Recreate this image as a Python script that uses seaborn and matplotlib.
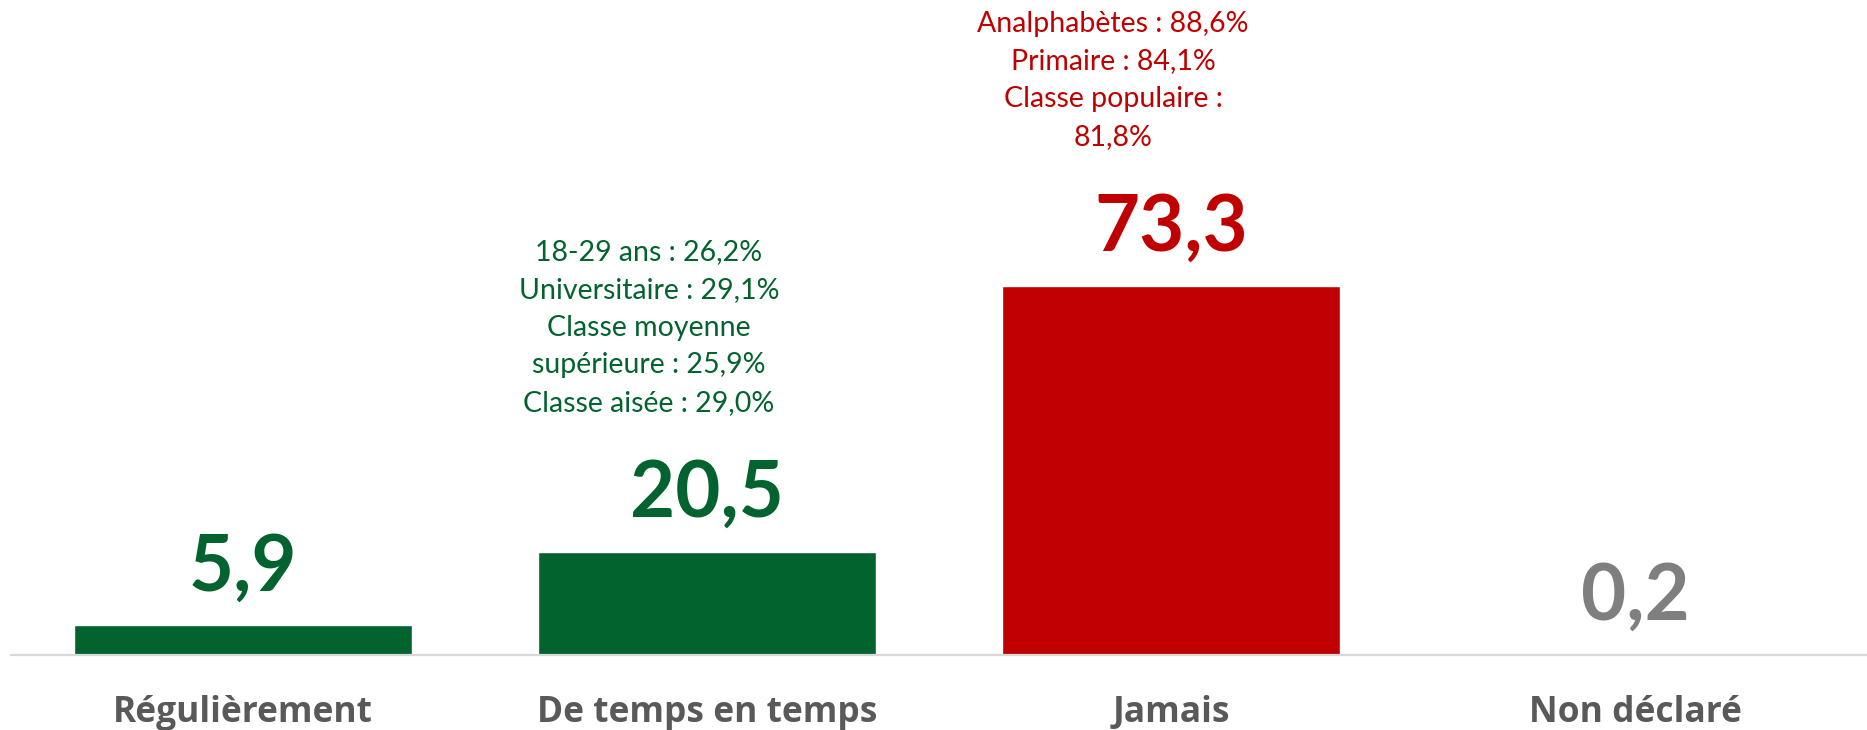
import matplotlib
matplotlib.use("Agg")
import matplotlib.pyplot as plt
import seaborn as sns
import pandas as pd

# data
categories = ["Régulièrement", "De temps en temps", "Jamais", "Non déclaré"]
values = [5.9, 20.5, 73.3, 0.2]
value_labels = ["5,9", "20,5", "73,3", "0,2"]
bar_colors = ["#03632F", "#03632F", "#C00000", "#7F7F7F"]
notes = {
    "De temps en temps": "18-29 ans : 26,2%\nUniversitaire : 29,1%\nClasse moyenne\nsupérieure : 25,9%\nClasse aisée : 29,0%",
    "Jamais": "Analphabètes : 88,6%\nPrimaire : 84,1%\nClasse populaire :\n81,8%",
}

sns.set_style("white")
plt.rcParams['font.family'] = ['Lato', 'DejaVu Sans']

df = pd.DataFrame({"cat": categories, "val": values})

fig = plt.figure(figsize=(18.67, 7.30), dpi=100)
ax = fig.add_axes([11 / 1867, 75 / 730, 1856 / 1867, 655 / 730])

sns.barplot(data=df, x="cat", y="val", hue="cat", palette=bar_colors,
            width=0.73, legend=False, ax=ax, saturation=1)

ax.set_ylim(0, 130)
ax.set_xlim(-0.5, 3.5)
ax.set_xlabel("")
ax.set_ylabel("")
ax.set_yticks([])
for s in ["top", "right", "left"]:
    ax.spines[s].set_visible(False)
ax.spines["bottom"].set_color("#D9D9D9")
ax.spines["bottom"].set_linewidth(1.6)
ax.tick_params(axis="x", length=0, pad=29)
for lbl in ax.get_xticklabels():
    lbl.set_fontsize(25.5)
    lbl.set_fontweight("bold")
    lbl.set_color("#595959")
    lbl.set_fontfamily(["Open Sans", "DejaVu Sans"])

# big value labels
for i, (v, txt, c) in enumerate(zip(values, value_labels, bar_colors)):
    ax.annotate(txt, xy=(i, v), xytext=(0, 25), textcoords="offset points",
                ha="center", va="baseline", fontsize=56, fontweight="bold",
                color=c)

# side notes above the bars
for cat, note in notes.items():
    i = categories.index(cat)
    ax.annotate(note, xy=(i - 0.125, values[i]), xytext=(0, 98),
                textcoords="offset points", ha="center", va="bottom",
                fontsize=20.5, color=bar_colors[i], linespacing=1.55,
                multialignment="center")

fig.savefig("out.png", dpi=100)
